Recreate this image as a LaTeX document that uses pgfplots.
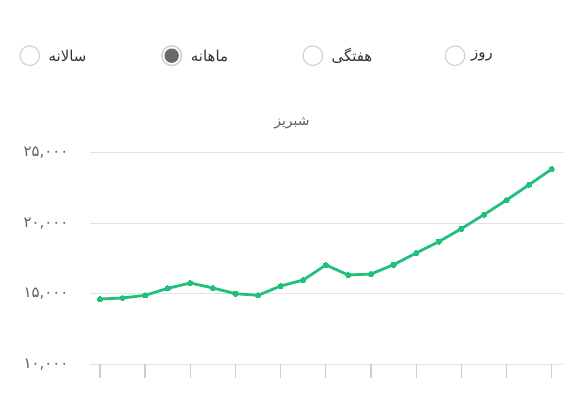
\documentclass[border=0pt]{standalone}
\usepackage{fontspec}
\usepackage{pgfplots}
\pgfplotsset{compat=1.18}
\TeXXeTstate=1
\newfontfamily\fa[Script=Arabic]{DejaVu Sans}
\definecolor{linegreen}{RGB}{33,193,124}
\definecolor{gridgray}{RGB}{226,226,232}
\definecolor{tickgray}{RGB}{205,205,214}
\definecolor{txtgray}{RGB}{95,95,95}
\definecolor{ringgray}{RGB}{210,210,210}
\definecolor{dotgray}{RGB}{105,105,105}

\begin{document}
\begin{tikzpicture}[x=1bp,y=1bp]
\begin{axis}[
    at={(90bp,46.7bp)}, anchor=south west,
    scale only axis,
    width=473bp, height=211.6bp,
    xmin=-0.44, xmax=20.5,
    ymin=10000, ymax=25000,
    xtick={0,2,...,20},
    xticklabels={},
    ytick={10000,15000,20000,25000},
    scaled y ticks=false,
    yticklabels={{۱۰,۰۰۰},{۱۵,۰۰۰},{۲۰,۰۰۰},{۲۵,۰۰۰}},
    yticklabel style={font=\fa\fontsize{15}{15}\selectfont, text=txtgray, xshift=-4bp},
    tick align=outside,
    xtick pos=bottom,
    major tick length=14bp,
    xtick style={draw=tickgray, line width=1.3bp},
    ytick style={draw=none},
    axis line style={draw=none},
    ymajorgrids=true,
    grid style={draw=gridgray, line width=1.4bp},
    clip=false,
]
\addplot[linegreen, line width=2.8bp, mark=*, mark size=2.6bp,
         mark options={fill=linegreen, draw=linegreen, line width=0bp}]
coordinates {
(0,14630) (1,14700) (2,14890) (3,15385) (4,15765) (5,15410) (6,15005)
(7,14890) (8,15550) (9,15975) (10,17040) (11,16330) (12,16400)
(13,17060) (14,17890) (15,18690) (16,19615) (17,20605) (18,21645)
(19,22730) (20,23840)
};
\end{axis}

% title
\node[font=\fa\fontsize{14}{14}\selectfont, text=txtgray] at (292,288) {\beginR شبریز\endR};

% radio buttons
\draw[ringgray, line width=1.2bp] (29.8,355.3) circle (9.8);
\node[anchor=west, inner sep=0pt, font=\fa\fontsize{15}{15}\selectfont, text=black!80] at (48.4,355.3) {\beginR سالانه\endR};

\draw[ringgray, line width=1.6bp, fill=white] (171.7,355.3) circle (9.8);
\fill[dotgray] (171.7,355.3) circle (7.2);
\node[anchor=west, inner sep=0pt, font=\fa\fontsize{15}{15}\selectfont, text=black!80] at (190.7,355.3) {\beginR ماهانه\endR};

\draw[ringgray, line width=1.2bp] (312.8,355.3) circle (9.8);
\node[anchor=west, inner sep=0pt, font=\fa\fontsize{15}{15}\selectfont, text=black!80] at (331.5,355.3) {\beginR هفتگی\endR};

\draw[ringgray, line width=1.2bp] (455,355.3) circle (9.8);
\node[anchor=west, inner sep=0pt, font=\fa\fontsize{15}{15}\selectfont, text=black!80] at (471,355.3) {\beginR روز\endR};

\pgfresetboundingbox
\path[use as bounding box] (0,0) rectangle (584,411);
\end{tikzpicture}
\end{document}
